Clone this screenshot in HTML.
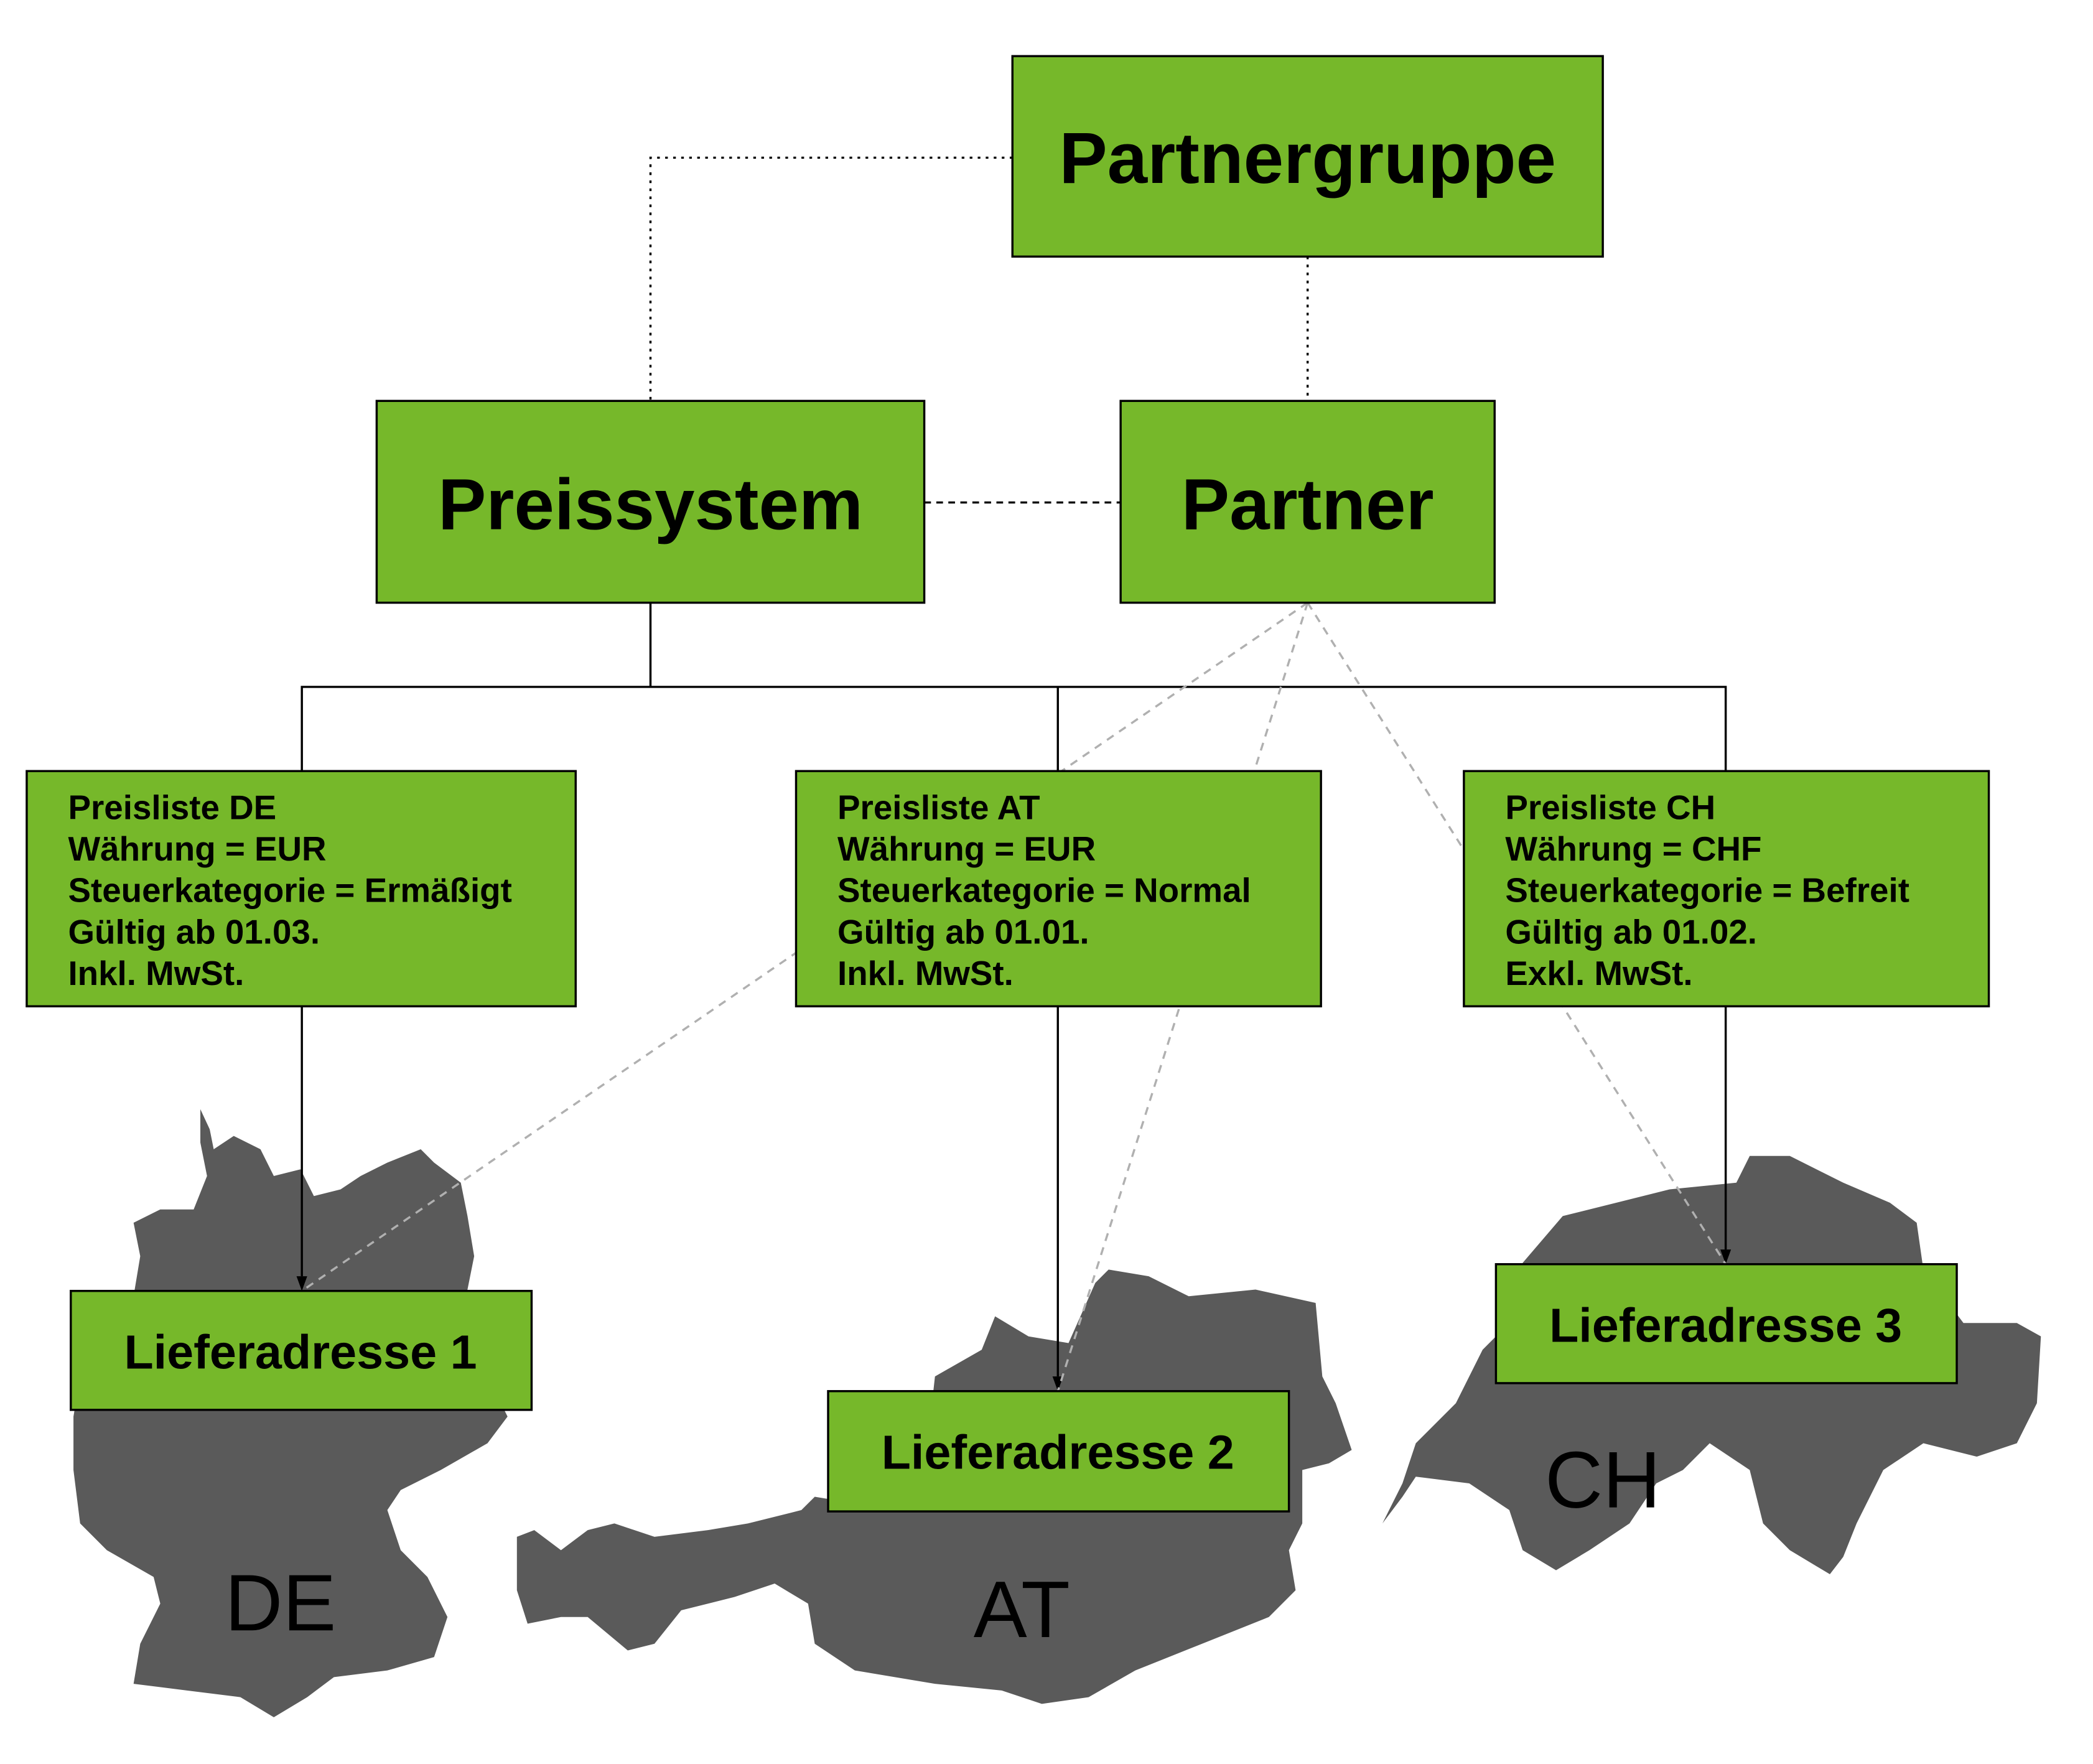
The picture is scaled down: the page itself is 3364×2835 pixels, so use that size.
<!DOCTYPE html>
<html><head><meta charset="utf-8"><style>
html,body{margin:0;padding:0;background:#fff;}
svg{display:block;}
text{font-family:"Liberation Sans",sans-serif;font-weight:bold;fill:#000;}
</style></head><body>
<svg width="3364" height="2835" viewBox="0 0 1567 1320" preserveAspectRatio="none" xmlns="http://www.w3.org/2000/svg">
<g fill="#5a5a5a">
<polygon points="150,830 157,845 160,860 175,850 195,860 205,880 225,875 235,895 255,890 270,880 290,870 315,860 325,870 345,885 350,910 355,940 350,965 345,990 360,1020 380,1060 365,1080 330,1100 300,1115 290,1130 300,1160 320,1180 335,1210 325,1240 290,1250 250,1255 230,1270 205,1285 180,1270 140,1265 100,1260 105,1230 120,1200 115,1180 80,1160 60,1140 55,1100 55,1060 60,1030 90,1000 100,970 105,940 100,915 120,905 145,905 155,880 150,855"/>
<polygon points="387,1150 400,1145 420,1160 440,1145 460,1140 490,1150 530,1145 560,1140 600,1130 610,1120 640,1125 690,1120 700,1030 735,1010 745,985 770,1000 800,1005 820,960 830,950 860,955 890,970 940,965 985,975 990,1030 1000,1050 1012,1085 995,1095 975,1100 975,1140 965,1160 970,1190 950,1210 900,1230 850,1250 815,1270 780,1275 750,1265 700,1260 640,1250 610,1230 605,1200 580,1185 550,1195 510,1205 490,1230 470,1235 440,1210 420,1210 395,1215 387,1190"/>
<polygon points="1035,1140 1050,1110 1060,1080 1090,1050 1110,1010 1140,980 1140,945 1170,910 1210,900 1250,890 1300,885 1310,865 1340,865 1380,885 1415,900 1435,915 1440,950 1470,990 1510,990 1528,1000 1525,1050 1510,1080 1480,1090 1440,1080 1410,1100 1390,1140 1380,1165 1370,1178 1340,1160 1320,1140 1310,1100 1280,1080 1260,1100 1240,1110 1220,1140 1190,1160 1165,1175 1140,1160 1130,1130 1100,1110 1060,1105 1050,1120"/>
</g>
<text x="210" y="1220" font-size="60" text-anchor="middle" style="font-weight:normal">DE</text>
<text x="765" y="1225" font-size="60" text-anchor="middle" style="font-weight:normal">AT</text>
<text x="1200" y="1128" font-size="60" text-anchor="middle" style="font-weight:normal">CH</text>
<g stroke="#000" stroke-width="1.6" fill="none">
<polyline points="758,118 487,118 487,300" stroke-dasharray="2,4"/>
<line x1="979" y1="192" x2="979" y2="300" stroke-dasharray="2,4"/>
<line x1="692" y1="376" x2="839" y2="376" stroke-dasharray="5,4"/>
<polyline points="487,451 487,514"/>
<polyline points="226,577 226,514 1292,514 1292,577"/>
<line x1="792" y1="514" x2="792" y2="577"/>
<line x1="226" y1="753" x2="226" y2="955"/>
<line x1="792" y1="753" x2="792" y2="1030"/>
<line x1="1292" y1="753" x2="1292" y2="935"/>
</g>
<g fill="#000">
<polygon points="222,955 230,955 226,966"/>
<polygon points="788,1030 796,1030 792,1041"/>
<polygon points="1288,935 1296,935 1292,946"/>
</g>
<g stroke="#b0b0b0" stroke-width="1.6" stroke-dasharray="6,5" fill="none">
<line x1="979" y1="451" x2="226" y2="966"/>
<line x1="979" y1="451" x2="792" y2="1041"/>
<line x1="979" y1="451" x2="1292" y2="946"/>
</g>
<g fill="#76b82a" stroke="#000" stroke-width="1.6">
<rect x="758" y="42" width="442" height="150"/>
<rect x="282" y="300" width="410" height="151"/>
<rect x="839" y="300" width="280" height="151"/>
<rect x="20" y="577" width="411" height="176"/>
<rect x="596" y="577" width="393" height="176"/>
<rect x="1096" y="577" width="393" height="176"/>
<rect x="53" y="966" width="345" height="89"/>
<rect x="620" y="1041" width="345" height="90"/>
<rect x="1120" y="946" width="345" height="89"/>
</g>
<text x="979" y="137" font-size="54" text-anchor="middle">Partnergruppe</text>
<text x="487" y="396" font-size="54" text-anchor="middle">Preissystem</text>
<text x="979" y="396" font-size="54" text-anchor="middle">Partner</text>
<g font-size="25.5">
<text x="51" y="613">Preisliste DE</text>
<text x="51" y="644">Währung = EUR</text>
<text x="51" y="675">Steuerkategorie = Ermäßigt</text>
<text x="51" y="706">Gültig ab 01.03.</text>
<text x="51" y="737">Inkl. MwSt.</text>
<text x="627" y="613">Preisliste AT</text>
<text x="627" y="644">Währung = EUR</text>
<text x="627" y="675">Steuerkategorie = Normal</text>
<text x="627" y="706">Gültig ab 01.01.</text>
<text x="627" y="737">Inkl. MwSt.</text>
<text x="1127" y="613">Preisliste CH</text>
<text x="1127" y="644">Währung = CHF</text>
<text x="1127" y="675">Steuerkategorie = Befreit</text>
<text x="1127" y="706">Gültig ab 01.02.</text>
<text x="1127" y="737">Exkl. MwSt.</text>
</g>
<text x="225" y="1024" font-size="36" text-anchor="middle">Lieferadresse 1</text>
<text x="792" y="1099" font-size="36" text-anchor="middle">Lieferadresse 2</text>
<text x="1292" y="1004" font-size="36" text-anchor="middle">Lieferadresse 3</text>
</svg>
</body></html>
